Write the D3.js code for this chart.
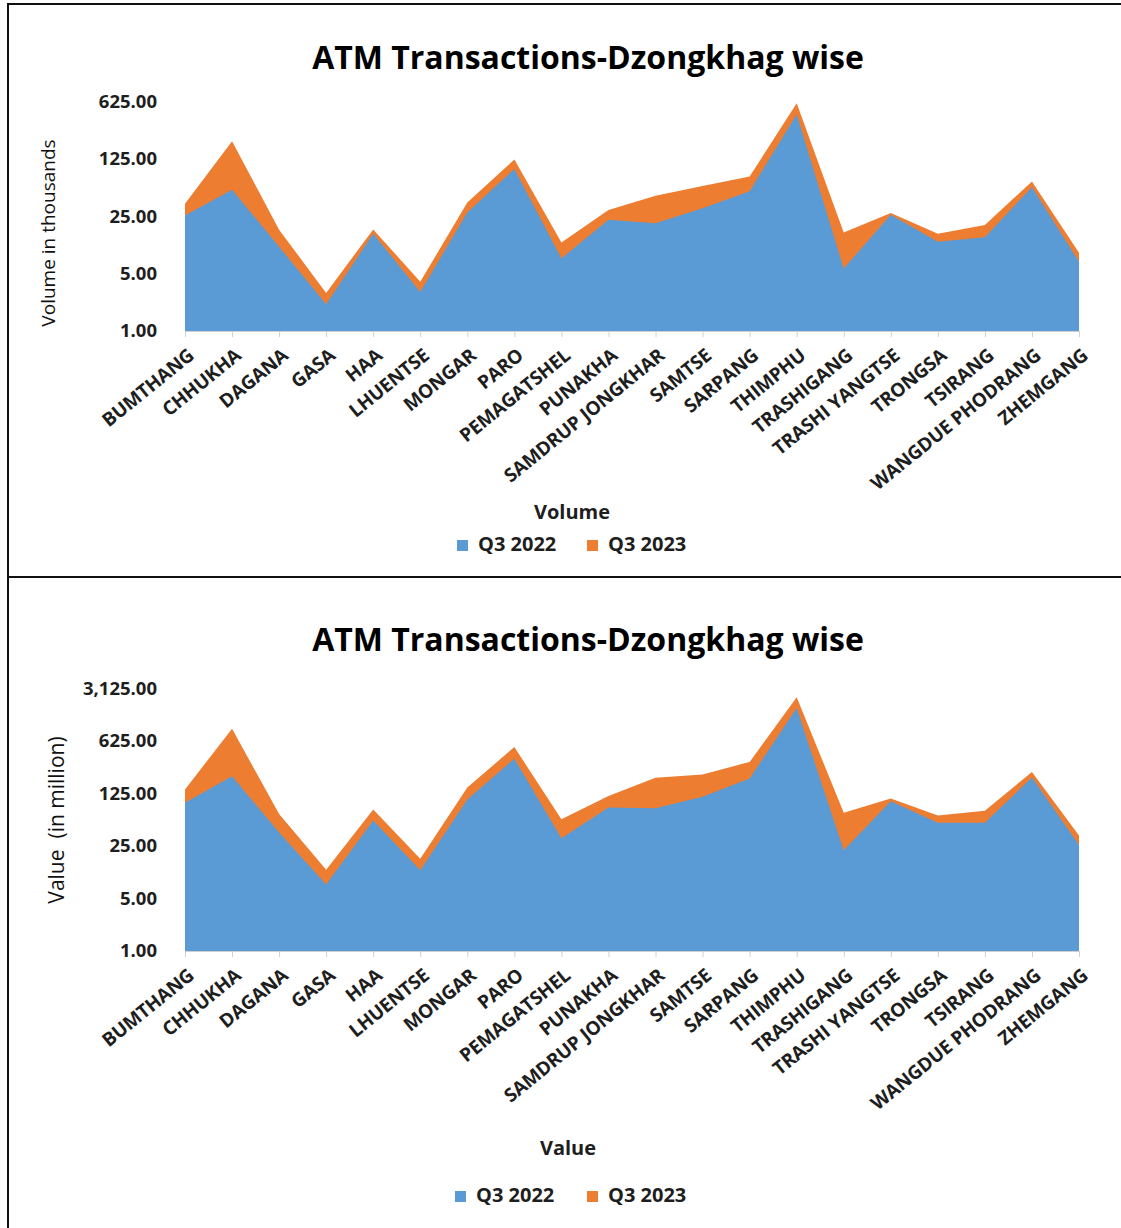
<!DOCTYPE html>
<html>
<head>
<meta charset="utf-8">
<script src="https://cdn.jsdelivr.net/npm/d3@7"></script>
<style>
  html, body { margin: 0; padding: 0; background: #fff; }
  svg { display: block; }
  text { font-family: "Open Sans", "Noto Sans", sans-serif; fill: #1e1e1e; }
</style>
</head>
<body>
<svg id="chart" width="1121" height="1228"></svg>
<script>
const categories = ["BUMTHANG","CHHUKHA","DAGANA","GASA","HAA","LHUENTSE","MONGAR","PARO","PEMAGATSHEL","PUNAKHA","SAMDRUP JONGKHAR","SAMTSE","SARPANG","THIMPHU","TRASHIGANG","TRASHI YANGTSE","TRONGSA","TSIRANG","WANGDUE PHODRANG","ZHEMGANG"];
const seriesNames = ["Q3 2022", "Q3 2023"];
const volumeQ3_2022 = [25.8, 53, 10.7, 2.12, 15.4, 3.0, 28, 95, 7.7, 22.8, 20.7, 31.6, 50.7, 441, 5.8, 26.2, 12.3, 14, 57, 7.0];
const volumeQ3_2023 = [35.7, 208, 17.2, 2.92, 17.4, 3.99, 37, 124, 12.0, 30, 44.9, 59, 77, 603, 15.9, 27.5, 15.4, 19.7, 67, 9.0];
const valueQ3_2022 = [95, 214, 38, 7.7, 55, 11.9, 105, 368, 32, 82, 80, 114, 200, 1747, 22, 99.5, 51.5, 51.5, 206, 26];
const valueQ3_2023 = [143, 921, 67, 12.1, 77, 17, 152, 525, 57, 117, 204, 226, 333, 2425, 70, 108, 64, 74, 245, 34.6];
const volumeTicks = [1, 5, 25, 125, 625];
const valueTicks = [1, 5, 25, 125, 625, 3125];
const chartTitle = "ATM Transactions-Dzongkhag wise";

const colors = ["#5B9BD5", "#ED7D31"];
const svg = d3.select("#chart");

// panel borders
svg.append("line").attr("x1", 8).attr("x2", 1121).attr("y1", 4).attr("y2", 4).attr("stroke", "#111").attr("stroke-width", 2);
svg.append("line").attr("x1", 8).attr("x2", 8).attr("y1", 3).attr("y2", 1228).attr("stroke", "#111").attr("stroke-width", 2);
svg.append("line").attr("x1", 8).attr("x2", 1121).attr("y1", 577).attr("y2", 577).attr("stroke", "#111").attr("stroke-width", 2);

function drawPanel(cfg) {
  const g = svg.append("g");
  const x = d3.scalePoint().domain(categories).range([185, 1079]);
  const y = d3.scaleLog().base(5).domain([1, cfg.top]).range([cfg.base, cfg.topY]);

  g.append("text").attr("x", 588).attr("y", cfg.titleY).attr("text-anchor", "middle")
    .style("font-size", "32px").style("font-weight", 700).style("fill", "#000")
    .text(chartTitle);

  const area = d3.area()
    .x((d, i) => x(categories[i]))
    .y0(cfg.base)
    .y1(d => y(d));

  g.append("path").datum(cfg.s2023).attr("d", area).attr("fill", colors[1]);
  g.append("path").datum(cfg.s2022).attr("d", area).attr("fill", colors[0]);

  // y axis
  const ya = d3.axisLeft(y).tickValues(cfg.ticks).tickFormat(d3.format(",.2f")).tickSize(0).tickPadding(0);
  const yg = g.append("g").attr("transform", "translate(157,0)").call(ya);
  yg.select(".domain").remove();
  yg.selectAll("text").style("font-size", "18.5px").style("font-weight", 700)
    .style("font-family", "'Open Sans', sans-serif").attr("fill", "#1e1e1e").attr("dy", "0.3em");

  // x axis
  const xa = d3.axisBottom(x).tickSize(6).tickSizeOuter(0).tickPadding(0);
  const xg = g.append("g").attr("transform", `translate(0,${cfg.base})`).call(xa);
  xg.select(".domain").attr("stroke", "#d0d0d0");
  xg.selectAll(".tick line").attr("stroke", "#d0d0d0");
  xg.selectAll("text")
    .style("font-size", "19px").style("font-weight", 700).style("font-family", "'Open Sans', sans-serif")
    .style("letter-spacing", "-0.2px")
    .attr("fill", "#1e1e1e")
    .attr("text-anchor", "end")
    .attr("dy", null)
    .attr("transform", "translate(6,22) rotate(-39)");

  // y axis title
  g.append("text").attr("transform", `translate(${cfg.yTitleX},${cfg.yTitleY}) rotate(-90)`)
    .attr("text-anchor", "middle").attr("dominant-baseline", "middle")
    .style("white-space", "pre")
    .style("font-size", cfg.yTitleSize).style("fill", "#111").text(cfg.yTitle);

  // x axis title
  g.append("text").attr("x", cfg.xTitleX).attr("y", cfg.xTitleY).attr("text-anchor", "middle")
    .attr("dominant-baseline", "middle")
    .style("font-size", "20px").style("font-weight", 700).text(cfg.xTitle);

  // legend
  const lg = g.append("g");
  seriesNames.forEach((name, i) => {
    const lx = cfg.legendX[i];
    lg.append("rect").attr("x", lx).attr("y", cfg.legendY - 6).attr("width", 11).attr("height", 11).attr("fill", colors[i]);
    lg.append("text").attr("x", lx + 21).attr("y", cfg.legendY).attr("dominant-baseline", "middle")
      .style("font-size", "20px").style("font-weight", 700).text(name);
  });
}

drawPanel({
  s2022: volumeQ3_2022, s2023: volumeQ3_2023, ticks: volumeTicks, top: 625,
  base: 331, topY: 102, titleY: 69,
  yTitle: "Volume in thousands", yTitleX: 50, yTitleY: 233, yTitleSize: "19px",
  xTitle: "Volume", xTitleX: 572, xTitleY: 514,
  legendX: [457, 587], legendY: 546
});

drawPanel({
  s2022: valueQ3_2022, s2023: valueQ3_2023, ticks: valueTicks, top: 3125,
  base: 951, topY: 689, titleY: 651,
  yTitle: "Value  (in million)", yTitleX: 58, yTitleY: 820, yTitleSize: "21px",
  xTitle: "Value", xTitleX: 568, xTitleY: 1150,
  legendX: [455, 587], legendY: 1197
});
</script>
</body>
</html>
